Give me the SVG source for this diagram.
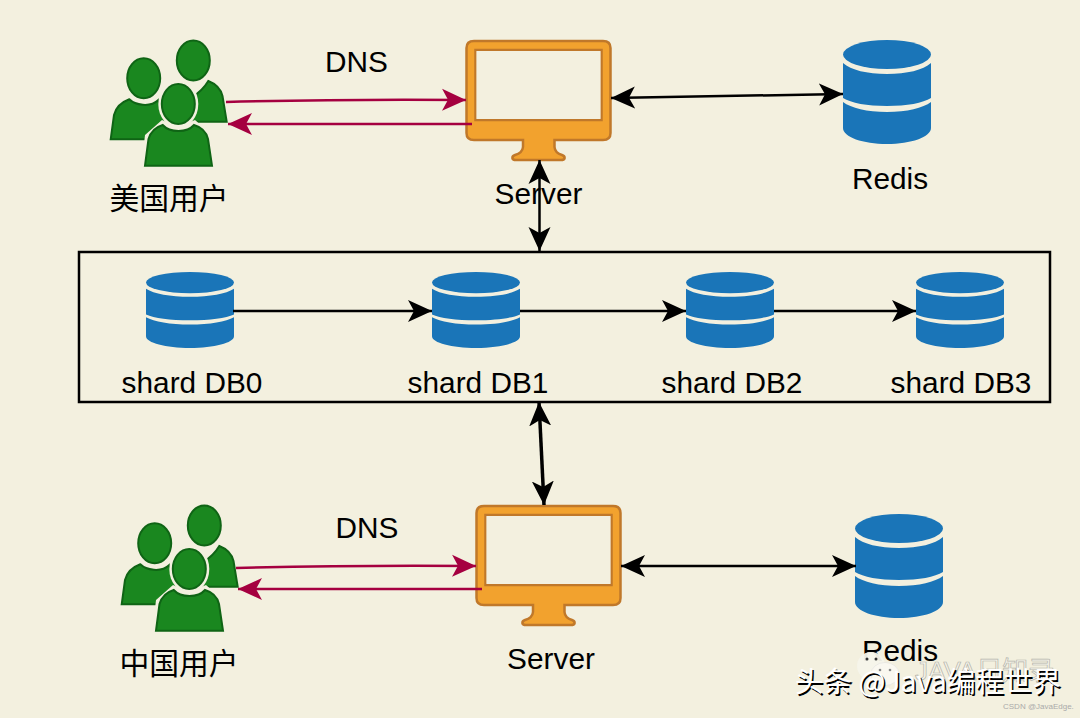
<svg xmlns="http://www.w3.org/2000/svg" width="1080" height="718" viewBox="0 0 1080 718">
<style>
.t{font-family:"Liberation Sans","Noto Sans CJK SC",sans-serif;font-size:29.800px;fill:#000;text-anchor:middle}
.c{font-family:"Noto Sans CJK SC",sans-serif;font-size:29.800px;fill:#000;text-anchor:middle}
.bk{fill:none;stroke:#000;stroke-width:2.500}
.rd{fill:none;stroke:#a50040;stroke-width:2.500}
.p{fill:#1a871f;stroke:#0f6415;stroke-width:2}
.wm{font-family:"Noto Sans CJK SC","Liberation Sans",sans-serif;font-size:28.500px;text-anchor:start}
</style>
<defs>
<marker id="ak" viewBox="0 0 24 24" refX="24" refY="12" markerWidth="24" markerHeight="24" markerUnits="userSpaceOnUse" orient="auto-start-reverse"><path d="M0 1 L24 12 L0 23 L6 12Z" fill="#000"/></marker>
<marker id="ar" viewBox="0 0 24 24" refX="24" refY="12" markerWidth="24" markerHeight="24" markerUnits="userSpaceOnUse" orient="auto"><path d="M0 1 L24 12 L0 23 L6 12Z" fill="#a50040"/></marker>
<symbol id="dbs" viewBox="0 0 88 104" preserveAspectRatio="none">
<ellipse cx="44" cy="14.500" rx="44" ry="14.500" fill="#1a75b8"/>
<path d="M0 23C8 30 24 34 44 34S80 30 88 23V58C80 63 64 66 44 66S8 63 0 58Z" fill="#1a75b8"/>
<path d="M0 62C8 68 24 72 44 72S80 68 88 62V88C88 97 68 104 44 104S0 97 0 88Z" fill="#1a75b8"/>
</symbol>
<g id="people">
<ellipse class="p" cx="193.300" cy="60.500" rx="16.500" ry="20"/>
<path class="p" d="M174 104C184 103 200 95 208.300 81C216 84 221 90 222.500 96L226.700 121.700H190Z"/>
<ellipse class="p" cx="143.700" cy="78.300" rx="16.500" ry="20"/>
<path class="p" d="M110.700 139.300L114 115C116 107 122 102 129.300 99.300C135 105 150 108 158.300 100L172 139.300Z"/>
<ellipse cx="178.300" cy="104" rx="20" ry="24" fill="#f3f0df"/>
<path d="M141 170L145 135L162 120L178 127L195 120L212 135L216 170Z" fill="#f3f0df"/>
<ellipse class="p" cx="178.300" cy="104" rx="16.500" ry="20"/>
<path class="p" d="M145 165.700L148.500 139C151 131 156 127 162.700 125C170 133 187 133 194 125C201 127 206 131 208 139L212 165.700Z"/>
</g>
<g id="monitor">
<path fill-rule="evenodd" fill="#f2a22e" stroke="#c0782a" stroke-width="2.500" d="M474 41H603Q610.500 41 610.500 48V133Q610.500 140 603 140H554.500V147Q555 153 562 155Q565 156 564.500 158.500Q564 160 561 160H516Q513 160 512.500 158.500Q512 156 515 155Q522.500 153 523 147V140H474Q466.500 140 466.500 133V48Q466.500 41 474 41ZM475.500 50V120H601.500V50Z"/>
<rect x="476.500" y="51" width="124" height="68" fill="#f3f0df"/>
</g>
</defs>
<rect width="1080" height="718" fill="#f3f0df"/>

<g id="box-shards"><rect x="79" y="252" width="971" height="150" fill="none" stroke="#000" stroke-width="2.500"/></g>

<g id="users-us"><use href="#people"/><text class="c" x="169" y="209">美国用户</text></g>
<g id="server-us"><use href="#monitor"/><text class="t" x="538.500" y="204">Server</text></g>
<g id="redis-us"><use href="#dbs" x="843" y="40" width="88" height="104"/><text class="t" x="890" y="189">Redis</text></g>

<g id="shard0"><use href="#dbs" x="146" y="272" width="88" height="76"/><text class="t" x="192" y="393">shard DB0</text></g>
<g id="shard1"><use href="#dbs" x="432" y="272" width="88" height="76"/><text class="t" x="478" y="393">shard DB1</text></g>
<g id="shard2"><use href="#dbs" x="686" y="272" width="88" height="76"/><text class="t" x="732" y="393">shard DB2</text></g>
<g id="shard3"><use href="#dbs" x="916" y="272" width="88" height="76"/><text class="t" x="961" y="393">shard DB3</text></g>

<g id="users-cn"><use href="#people" x="11" y="465"/><text class="c" x="179" y="674">中国用户</text></g>
<g id="server-cn"><use href="#monitor" x="10" y="465"/><text class="t" x="551" y="669">Server</text></g>
<g id="redis-cn"><use href="#dbs" x="855" y="514" width="88" height="104"/><text class="t" x="900" y="661">Redis</text></g>

<text class="t" x="356.500" y="72">DNS</text>
<text class="t" x="367" y="538">DNS</text>

<g id="connectors">
<path class="rd" marker-end="url(#ar)" d="M226 102Q340 99 466 100"/>
<path class="rd" marker-end="url(#ar)" d="M472 124H228"/>
<path class="rd" marker-end="url(#ar)" d="M236 568Q350 565 476 566"/>
<path class="rd" marker-end="url(#ar)" d="M482 589H238"/>
<path class="bk" marker-start="url(#ak)" marker-end="url(#ak)" d="M611 98L843 94"/>
<path class="bk" marker-start="url(#ak)" marker-end="url(#ak)" d="M539.500 160V251"/>
<path class="bk" style="stroke-width:3.500" marker-start="url(#ak)" marker-end="url(#ak)" d="M539 402L544 505"/>
<path class="bk" marker-start="url(#ak)" marker-end="url(#ak)" d="M621 566H856"/>
<path class="bk" marker-end="url(#ak)" d="M233 311H432"/>
<path class="bk" marker-end="url(#ak)" d="M520 311H686"/>
<path class="bk" marker-end="url(#ak)" d="M774 311H916"/>
</g>

<g id="watermark">
<g fill="#f6f4ea" opacity=".95"><ellipse cx="871" cy="666" rx="14" ry="14"/></g>
<circle cx="867" cy="659" r="1.500" fill="#333"/><circle cx="876" cy="659" r="1.500" fill="#333"/>
<ellipse cx="885" cy="674" rx="14" ry="11.500" fill="#faf8f0" stroke="#ddd" stroke-width=".5"/>
<circle cx="880" cy="670" r="1.300" fill="#888"/><circle cx="890" cy="670" r="1.300" fill="#888"/>
<text x="915" y="680" font-family="Liberation Sans,Noto Sans CJK SC,sans-serif" font-size="26" fill="#f6f4ea" stroke="#b5b5ac" stroke-width=".7">JAVA日知录</text>
<text class="wm" x="796.500" y="693.500" fill="#000">头条 @Java编程世界</text>
<text class="wm" x="795" y="692" fill="#fff">头条 @Java编程世界</text>
<text x="1003" y="709" font-family="Liberation Sans,sans-serif" font-size="8" fill="#aaa">CSDN @JavaEdge.</text>
</g>
</svg>
